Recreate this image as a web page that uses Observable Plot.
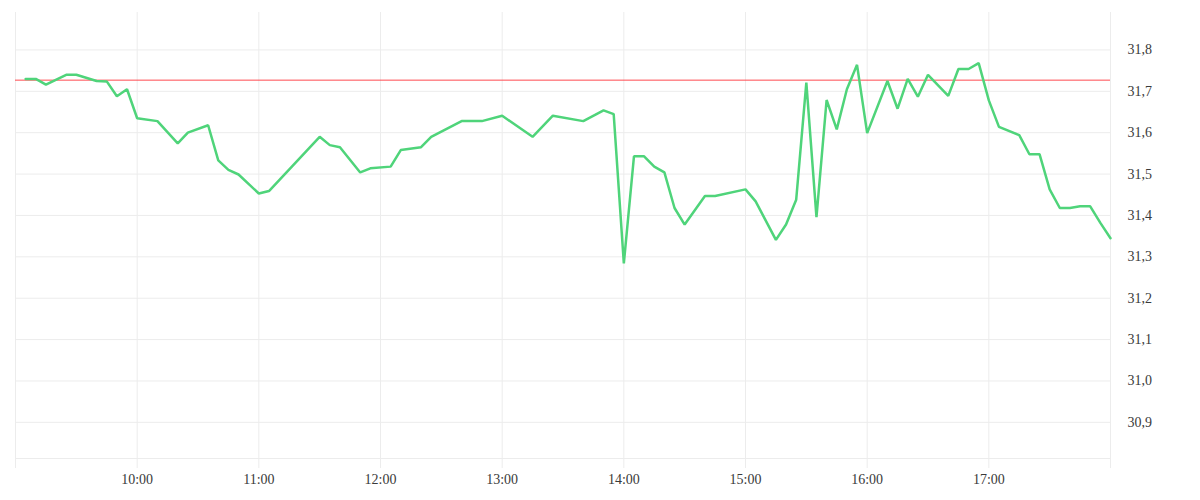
<!DOCTYPE html>
<html>
<head>
<meta charset="utf-8">
<script src="https://cdn.jsdelivr.net/npm/d3@7"></script>
<script src="https://cdn.jsdelivr.net/npm/@observablehq/plot@0.6"></script>
<style>
  html, body { margin: 0; padding: 0; background: #fff; }
  #chart svg { display: block; }
  #chart svg, #chart svg text { font-family: "Liberation Serif", serif !important; font-size: 14px !important; }
</style>
</head>
<body>
<div id="chart"></div>
<script>
// Intraday price series
const times = ["09:05","09:10","09:15","09:25","09:30","09:40","09:45","09:50","09:55","10:00",
  "10:10","10:20","10:25","10:35","10:40","10:45","10:50","11:00","11:05","11:30",
  "11:35","11:40","11:50","11:55","12:05","12:10","12:20","12:25","12:40","12:50",
  "13:00","13:15","13:25","13:40","13:50","13:55","14:00","14:05","14:10","14:15",
  "14:20","14:25","14:30","14:40","14:45","15:00","15:05","15:15","15:20","15:25",
  "15:30","15:35","15:40","15:45","15:50","15:55","16:00","16:10","16:15","16:20",
  "16:25","16:30","16:40","16:45","16:50","16:55","17:00","17:05","17:15","17:20",
  "17:25","17:30","17:35","17:40","17:45","17:50","17:55","18:00"];
const prices = [31.730,31.730,31.716,31.740,31.740,31.725,31.724,31.688,31.705,31.635,
  31.628,31.574,31.600,31.618,31.533,31.510,31.499,31.453,31.459,31.590,
  31.570,31.565,31.504,31.514,31.518,31.558,31.565,31.590,31.628,31.628,
  31.641,31.590,31.641,31.628,31.654,31.645,31.284,31.543,31.543,31.518,
  31.504,31.418,31.378,31.447,31.447,31.463,31.434,31.341,31.378,31.438,
  31.721,31.396,31.679,31.608,31.705,31.764,31.599,31.725,31.658,31.730,
  31.687,31.740,31.689,31.754,31.754,31.768,31.678,31.614,31.594,31.548,
  31.548,31.463,31.418,31.418,31.422,31.422,31.382,31.345];
const referencePrice = 31.727;

const hourTicks = ["09:00","10:00","11:00","12:00","13:00","14:00","15:00","16:00","17:00","18:00"];
const labelTicks = ["10:00","11:00","12:00","13:00","14:00","15:00","16:00","17:00"];
const yTicks = [30.9, 31.0, 31.1, 31.2, 31.3, 31.4, 31.5, 31.6, 31.7, 31.8];
const xDomain = ["09:00", "18:00"];
const yDomain = [30.8126, 31.8905];

const toDate = s => new Date(`2024-01-02T${s}:00Z`);
const data = times.map((t, i) => ({time: toDate(t), price: prices[i]}));

const gridColor = "#ececec";
const textColor = "#3a3a3a";

const chart = Plot.plot({
  width: 1200,
  height: 500,
  marginLeft: 15,
  marginRight: 90,
  marginTop: 12,
  marginBottom: 42,
  style: {fontFamily: "'Liberation Serif', serif", fontSize: "14px", color: textColor, background: "#fff"},
  x: {type: "utc", domain: xDomain.map(toDate)},
  y: {domain: yDomain},
  marks: [
    Plot.gridX(hourTicks.map(toDate), {stroke: gridColor, strokeOpacity: 1}),
    Plot.gridY(yTicks, {stroke: gridColor, strokeOpacity: 1}),
    Plot.ruleY([yDomain[0]], {stroke: gridColor}),
    Plot.axisX(hourTicks.map(toDate), {tickSize: 10, stroke: gridColor, text: null, label: null}),
    Plot.axisX(labelTicks.map(toDate), {tickSize: 10, tickPadding: 6, stroke: "none", fill: textColor,
      tickFormat: d3.utcFormat("%H:%M"), label: null}),
    Plot.axisY(yTicks, {anchor: "right", tickSize: 0, tickPadding: 17, fill: textColor,
      tickFormat: d => d.toFixed(1).replace(".", ","), label: null}),
    Plot.ruleY([referencePrice], {stroke: "#ff4a50", strokeWidth: 1}),
    Plot.line(data, {x: "time", y: "price", stroke: "#4fd47a", strokeWidth: 2.5, strokeLinejoin: "miter"})
  ]
});
document.getElementById("chart").appendChild(chart);
</script>
</body>
</html>
